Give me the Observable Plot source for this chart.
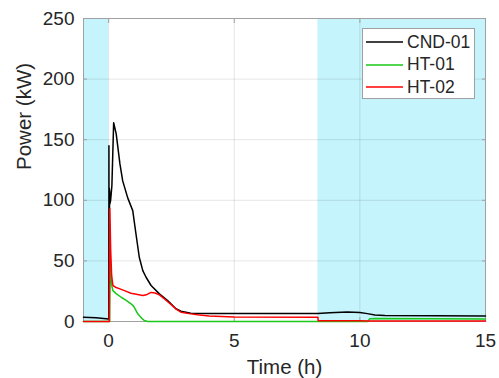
<!DOCTYPE html>
<html>
<head>
<meta charset="utf-8">
<script src="https://cdn.jsdelivr.net/npm/d3@7"></script>
<script src="https://cdn.jsdelivr.net/npm/@observablehq/plot@0.6"></script>
<style>
  html, body { margin: 0; padding: 0; background: #fff; }
  #wrap { position: relative; width: 499px; height: 378px; font-family: "Liberation Sans", Arial, sans-serif; }
  #legend { position: absolute; left: 362px; top: 28px; width: 113px; height: 71px; box-sizing: border-box;
            border: 1px solid #a0a0a0; background: #fff; }
  .row { position: absolute; left: 0; height: 22px; display: flex; align-items: center; font-size: 17.5px; color: #262626; }
  .row svg { margin-left: 3px; margin-right: 4px; }
</style>
</head>
<body>
<div id="wrap"><div id="legend"></div></div>
<script>
// ---- data ----
const seriesNames = ["CND-01", "HT-01", "HT-02"];
const seriesColors = ["#000000", "#19c819", "#ff0000"];

const cndTime = [-1, -0.5, 0, 0.01, 0.012, 0.016, 0.02, 0.025, 0.03, 0.035, 0.04, 0.05, 0.08, 0.13, 0.2, 0.3, 0.45, 0.56, 0.76, 0.96, 1.09, 1.22, 1.36, 1.49, 1.69, 2.02, 2.35, 2.68, 2.88, 3.27, 4, 6, 8.33, 8.8, 9.5, 10, 10.3, 10.6, 11, 13, 15];
const cndPower = [3.5, 3, 2, 2, 145, 60, 110, 93, 110, 93, 108, 97, 100, 112, 164, 155, 130, 116, 102, 91.5, 72, 53, 42, 36.5, 29.7, 22.8, 17.3, 10.5, 8.5, 6.8, 6.6, 6.5, 6.7, 7.3, 7.8, 7.5, 6.5, 5.3, 5, 4.8, 4.6];

const ht01Time = [-1, 0, 0.04, 0.06, 0.08, 0.12, 0.17, 0.3, 0.5, 0.7, 0.89, 1.0, 1.16, 1.3, 1.42, 1.55, 2, 10.3, 10.4, 10.6, 15];
const ht01Power = [0, 0, 0, 55, 40, 30, 25.5, 23, 20, 17.5, 14.6, 12.5, 6.3, 3, 0.8, 0, 0, 0, 2.3, 2.5, 2];

const ht02Time = [-1, 0, 0.03, 0.05, 0.08, 0.12, 0.17, 0.3, 0.5, 0.63, 0.89, 1.1, 1.36, 1.5, 1.69, 1.85, 2.02, 2.2, 2.48, 2.7, 2.88, 3.2, 3.54, 4, 5, 8.33, 8.34, 10, 10.35, 15];
const ht02Power = [0, 0, 0, 93, 60, 38, 29.7, 28, 26.5, 25.5, 23.3, 22.5, 21.4, 22, 24, 23.5, 22, 19, 14, 10, 7.7, 6.5, 5.5, 4.5, 3.8, 3.5, 0.6, 0.6, 0.5, 0.5];

const shadeStart = [-1, 8.33];
const shadeEnd = [0, 15];

const xTicks = [0, 5, 10, 15];
const yTicks = [0, 50, 100, 150, 200, 250];
const xLabel = "Time (h)";
const yLabel = "Power (kW)";

// ---- build table ----
const seriesTimes = [cndTime, ht01Time, ht02Time];
const seriesPowers = [cndPower, ht01Power, ht02Power];
const rows = [];
seriesNames.forEach((name, i) => {
  seriesTimes[i].forEach((t, j) => rows.push({series: name, t, p: seriesPowers[i][j]}));
});
const shades = shadeStart.map((s, i) => ({x1: s, x2: shadeEnd[i]}));

const font = "Liberation Sans, Arial, sans-serif";
const txt = "#262626";
const axisGray = "#a0a0a0";

const chart = Plot.plot({
  width: 499,
  height: 378,
  marginLeft: 83,
  marginRight: 14,
  marginTop: 18,
  marginBottom: 57,
  style: {fontFamily: font, background: "#fff", color: txt, overflow: "visible"},
  x: {domain: [-1, 15]},
  y: {domain: [0, 250]},
  color: {domain: seriesNames, range: seriesColors},
  marks: [
    Plot.rect(shades, {x1: "x1", x2: "x2", y1: 0, y2: 250, fill: "#c5f4fc"}),
    Plot.gridX(xTicks, {stroke: "#000", strokeOpacity: 0.1}),
    Plot.gridY(yTicks, {stroke: "#000", strokeOpacity: 0.1}),
    Plot.frame({stroke: axisGray, strokeWidth: 1}),
    Plot.axisX(xTicks, {anchor: "bottom", tickSize: 4, dy: -4, text: null, label: null, stroke: axisGray}),
    Plot.axisX(xTicks, {anchor: "top", tickSize: 4, dy: 4, text: null, label: null, stroke: axisGray}),
    Plot.axisY(yTicks, {anchor: "left", tickSize: 4, dx: 4, text: null, label: null, stroke: axisGray}),
    Plot.axisY(yTicks, {anchor: "right", tickSize: 4, dx: -4, text: null, label: null, stroke: axisGray}),
    Plot.axisX(xTicks, {anchor: "bottom", tickSize: 0, tickPadding: 12, fontSize: 19, fill: txt, label: null}),
    Plot.axisY(yTicks, {anchor: "left", tickSize: 0, tickPadding: 9, fontSize: 19, fill: txt, label: null}),
    Plot.line(rows, {x: "t", y: "p", z: "series", stroke: "series", strokeWidth: 1.5, curve: "linear"}),
    Plot.text([xLabel], {frameAnchor: "bottom", lineAnchor: "bottom", dy: 52, fontSize: 20.5, fill: txt}),
    Plot.text([yLabel], {frameAnchor: "left", rotate: -90, dx: -59, fontSize: 20.5, fill: txt})
  ]
});
document.getElementById("wrap").insertBefore(chart, document.getElementById("legend"));

// ---- legend ----
const legend = document.getElementById("legend");
seriesNames.forEach((name, i) => {
  const row = document.createElement("div");
  row.className = "row";
  row.style.top = (2.3 + 22.5 * i) + "px";
  row.innerHTML = `<svg width="37" height="4"><line x1="0" x2="37" y1="2" y2="2" stroke="${seriesColors[i]}" stroke-width="1.5"/></svg><span>${name}</span>`;
  legend.appendChild(row);
});
</script>
</body>
</html>
